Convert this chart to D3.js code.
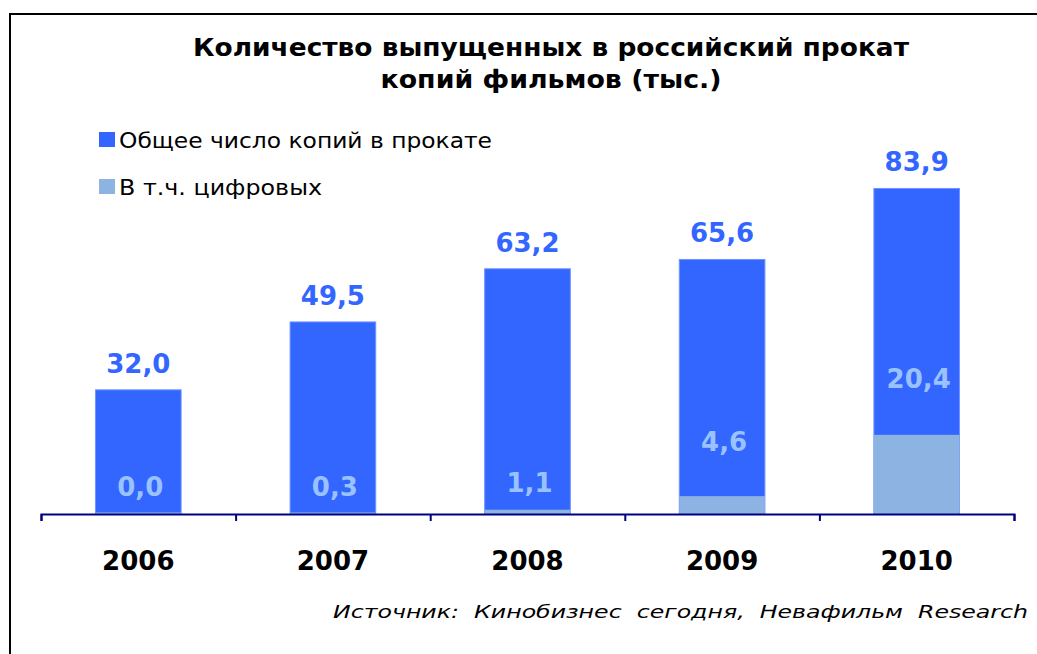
<!DOCTYPE html>
<html>
<head>
<meta charset="utf-8">
<script src="https://cdn.jsdelivr.net/npm/d3@7"></script>
<style>
body { margin: 0; background: #fff; }
svg { display: block; font-family: "DejaVu Sans", Verdana, sans-serif; }
</style>
</head>
<body>
<svg width="1037" height="654"></svg>
<script>
var years = ["2006", "2007", "2008", "2009", "2010"];
var totalCopies = [32.0, 49.5, 63.2, 65.6, 83.9];
var digitalCopies = [0.0, 0.3, 1.1, 4.6, 20.4];
// where the digital labels sit, in thousands (they were placed by hand in the source)
var digitalLabelAt = [4.6, 4.6, 5.7, 16.2, 32.5];
var seriesNames = ["Общее число копий в прокате", "В т.ч. цифровых"];
var titleLines = ["Количество выпущенных в российский прокат", "копий фильмов (тыс.)"];
var sourceText = "Источник:  Кинобизнес  сегодня,  Невафильм  Research";

var colors = {total: "#3366FF", digital: "#8DB3E2", digitalLabel: "#99C2FF", axis: "#000080"};
var margins = {left: 41, right: 23, baseline: 514};

var svg = d3.select("svg");

// frame
svg.append("rect")
    .attr("x", 10).attr("y", 14)
    .attr("width", 1040).attr("height", 660)
    .attr("fill", "none")
    .attr("stroke", "#000")
    .attr("stroke-width", 2);

// title (widths, the original font is wider)
var titleWidths = [716, 341];
svg.append("text")
    .attr("text-anchor", "middle")
    .attr("font-weight", "bold")
    .attr("font-size", 24)
    .selectAll("tspan")
    .data(titleLines)
    .enter()
    .append("tspan")
    .attr("x", 551)
    .attr("y", function(d, i) { return 56 + i * 32; })
    .attr("textLength", function(d, i) { return titleWidths[i]; })
    .attr("lengthAdjust", "spacingAndGlyphs")
    .text(function(d) { return d; });

var xScale = d3.scaleBand()
    .domain(years)
    .range([margins.left, 1037 - margins.right])
    .paddingInner(0.56)
    .paddingOuter(0.28);

var edgeScale = d3.scaleLinear()
    .domain([0, years.length])
    .range([margins.left, 1037 - margins.right]);

var yScale = d3.scaleLinear()
    .domain([0, 90])
    .range([margins.baseline, margins.baseline - 90 * 3.88]);

// legend
var legendWidths = [373, 203];
var legend = svg.append("g").attr("class", "legend");
var legendItems = legend.selectAll("g")
    .data(seriesNames)
    .enter()
    .append("g")
    .attr("transform", function(d, i) { return "translate(99," + (132 + i * 47) + ")"; });

legendItems.append("rect")
    .attr("width", 16).attr("height", 15)
    .attr("fill", function(d, i) { return i == 0 ? colors.total : colors.digital; });

legendItems.append("text")
    .attr("x", 20)
    .attr("y", 16)
    .attr("font-size", 22)
    .attr("textLength", function(d, i) { return legendWidths[i]; })
    .attr("lengthAdjust", "spacingAndGlyphs")
    .text(function(d) { return d; });

// bars
var bars = svg.append("g").attr("class", "bars");

bars.selectAll(".total")
    .data(totalCopies)
    .enter()
    .append("rect")
    .attr("class", "total")
    .attr("x", function(d, i) { return xScale(years[i]); })
    .attr("width", xScale.bandwidth())
    .attr("y", function(d) { return yScale(d); })
    .attr("height", function(d) { return yScale(0) - yScale(d); })
    .attr("fill", colors.total)
    .attr("stroke", "#6f93ff")
    .attr("stroke-width", 1);

bars.selectAll(".digital")
    .data(digitalCopies)
    .enter()
    .append("rect")
    .attr("class", "digital")
    .attr("x", function(d, i) { return xScale(years[i]); })
    .attr("width", xScale.bandwidth())
    .attr("y", function(d) { return yScale(Math.max(d, 0.4)); })
    .attr("height", function(d) { return yScale(0) - yScale(Math.max(d, 0.4)); })
    .attr("fill", colors.digital);

var fmt = function(v) { return d3.format(".1f")(v).replace(".", ","); };

// value labels
svg.append("g")
    .selectAll("text")
    .data(totalCopies)
    .enter()
    .append("text")
    .attr("x", function(d, i) { return xScale(years[i]) + xScale.bandwidth() / 2; })
    .attr("y", function(d) { return yScale(d) - 17; })
    .attr("text-anchor", "middle")
    .attr("font-weight", "bold")
    .attr("font-size", 26)
    .attr("fill", colors.total)
    .text(fmt);

svg.append("g")
    .selectAll("text")
    .data(digitalCopies)
    .enter()
    .append("text")
    .attr("x", function(d, i) { return xScale(years[i]) + xScale.bandwidth() / 2 + 2; })
    .attr("y", function(d, i) { return yScale(digitalLabelAt[i]); })
    .attr("text-anchor", "middle")
    .attr("font-weight", "bold")
    .attr("font-size", 26)
    .attr("fill", colors.digitalLabel)
    .text(fmt);

// x axis: line with ticks at category edges
var xAxis = d3.axisBottom(edgeScale)
    .ticks(years.length)
    .tickSizeOuter(0)
    .tickSize(7)
    .tickFormat("");

var axisG = svg.append("g")
    .attr("transform", "translate(0," + margins.baseline + ")")
    .call(xAxis);
axisG.select(".domain").attr("stroke", colors.axis).attr("stroke-width", 2);
axisG.selectAll(".tick line").attr("stroke", colors.axis).attr("stroke-width", 2);

svg.append("g")
    .selectAll("text")
    .data(years)
    .enter()
    .append("text")
    .attr("x", function(d) { return xScale(d) + xScale.bandwidth() / 2; })
    .attr("y", 570)
    .attr("text-anchor", "middle")
    .attr("font-weight", "bold")
    .attr("font-size", 26)
    .text(function(d) { return d; });

// source
svg.append("text")
    .attr("x", 1028)
    .attr("y", 618)
    .attr("text-anchor", "end")
    .attr("font-style", "italic")
    .attr("font-size", 18)
    .attr("textLength", 695)
    .attr("lengthAdjust", "spacingAndGlyphs")
    .style("white-space", "pre")
    .text(sourceText);
</script>
</body>
</html>
